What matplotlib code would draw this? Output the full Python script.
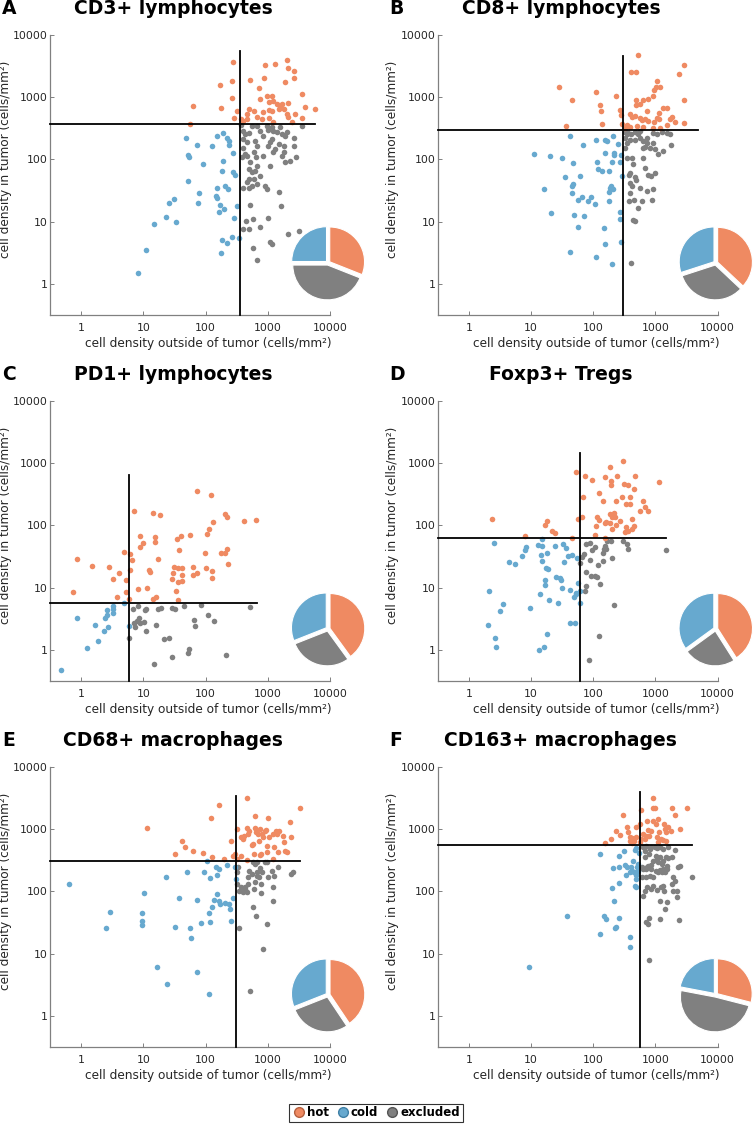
import matplotlib
matplotlib.use("Agg")
import matplotlib.pyplot as plt
from matplotlib.lines import Line2D
import numpy as np

# colours
HOT = "#ef8a62"
COLD = "#67a9cf"
EXCL = "#808080"

# ---- data: (outside tumor, inside tumor) densities, cells/mm2 ----
cd3_hot_x = [280, 270, 270, 170, 180, 62, 57, 315, 285, 520, 370, 460, 505, 590, 710, 900, 880, 1300, 2000, 2150,
             2600, 2600, 1900, 1060, 960, 1160, 1230, 1400, 1580, 1490, 1790, 1160, 1030, 850, 800, 1060, 1230, 2000,
             2150, 2750, 3500, 3500, 4000, 5800, 2150, 750, 665, 460, 405, 1680, 2440]
cd3_hot_y = [3700, 1850, 960, 1550, 680, 730, 370, 590, 460, 1900, 450, 540, 650, 590, 1400, 3300, 2000, 3400, 3900,
             2900, 2600, 2000, 1750, 850, 1060, 1060, 880, 780, 730, 650, 650, 610, 620, 570, 450, 460, 395, 540, 475,
             540, 460, 1130, 690, 650, 810, 940, 475, 450, 420, 780, 395]
cd3_cold_x = [8.2, 11, 15, 23, 26, 31, 34, 48, 53, 55, 53, 72, 78, 76, 90, 126, 150, 147, 150, 162, 154, 170, 181,
              175, 188, 193, 183, 198, 208, 218, 229, 235, 235, 224, 263, 272, 279, 286, 297, 324, 349]
cd3_cold_y = [1.5, 3.5, 9.3, 12, 20, 23.5, 10, 225, 117, 108, 45, 172, 29, 20, 86, 162, 238, 26, 24, 14.5, 35, 18.6,
              5, 3.1, 95, 265, 66, 16, 37, 218, 33, 200, 172, 4.5, 5.7, 63, 125, 11.6, 57, 18, 5.4]
cd3_excl_x = [370, 405, 430, 490, 460, 395, 430, 470, 520, 490, 505, 460, 550, 590, 625, 665, 650, 550, 665, 750,
              960, 1025, 1230, 1400, 1680, 1900, 2020, 1580, 1160, 1025, 1090, 1310, 1490, 1790, 1680, 1900, 2290,
              2600, 2600, 2860, 3500, 1230, 1090, 850, 665, 625, 590, 750, 665, 550, 490, 405, 905, 964, 1490, 1620,
              520, 1000, 450, 573, 505, 405, 750, 587, 680, 1090, 1160, 2150, 3130, 405, 850, 1160, 1790, 380]
cd3_excl_y = [355, 213, 255, 270, 188, 150, 122, 115, 90, 70, 48, 44, 62, 130, 200, 166, 108, 350, 350, 290, 350,
              300, 290, 272, 256, 240, 272, 328, 328, 166, 188, 147, 177, 166, 115, 90, 95, 166, 218, 108, 340, 130,
              79, 115, 79, 66, 48, 55, 40, 37.6, 35, 35, 37.6, 33, 30, 18, 18.6, 11.5, 10.3, 10.9, 7.5, 7.7, 8.2, 3.8,
              2.4, 4.8, 4.3, 6.4, 7.2, 290, 240, 210, 130, 108]

cd8_hot_x = [28, 45, 37, 110, 128, 131, 138, 232, 269, 280, 294, 530, 400, 480, 1050, 1190, 1025, 930, 905, 770, 640,
             566, 488, 488, 390, 415, 470, 566, 600, 680, 770, 930, 1120, 1120, 1345, 1520, 1730, 1830, 2075, 2350,
             2900, 2830, 2900, 500, 640, 390, 324, 345, 1520, 905, 1190, 1050, 725]
cd8_hot_y = [1470, 900, 340, 1230, 750, 600, 367, 1060, 620, 510, 367, 4700, 2500, 2500, 1790, 1470, 1470, 1300, 1050,
             930, 895, 770, 895, 750, 546, 482, 500, 470, 436, 453, 415, 405, 442, 566, 680, 665, 442, 482, 405, 2350,
             3280, 895, 390, 345, 332, 332, 316, 358, 358, 324, 324, 470, 600]
cd8_cold_x = [11, 20.5, 32, 48, 43, 69, 109, 156, 164, 210, 253, 215, 215, 280, 156, 113, 120, 136, 181, 198, 269, 35,
              61, 16.4, 48, 45, 46, 56, 65, 81, 91, 106, 186, 210, 195, 181, 179, 286, 21, 49, 72, 56, 150, 269, 269,
              154, 280, 42, 109, 198]
cd8_cold_y = [123, 112, 106, 87, 238, 168, 202, 208, 198, 238, 179, 128, 117, 116, 128, 92, 69, 65, 65, 91, 91, 52, 54,
              33, 40, 37, 29, 22.6, 24.7, 21.3, 24.7, 19.5, 35, 34, 38, 30, 21.3, 54, 14, 13, 12.2, 8.3, 8, 14.3, 11.2,
              4.3, 4.8, 3.2, 2.7, 2.1]
cd8_excl_x = [324, 367, 400, 470, 532, 566, 390, 345, 324, 470, 640, 743, 929, 1050, 1265, 1520, 1730, 1770, 1313,
              1117, 988, 820, 681, 743, 906, 353, 415, 442, 390, 376, 470, 488, 640, 681, 771, 841, 988, 390, 415, 566,
              725, 906, 390, 381, 453, 602, 873, 532, 431, 470, 400, 640, 566, 345, 324]
cd8_excl_y = [280, 269, 253, 276, 259, 286, 202, 186, 154, 202, 198, 218, 269, 259, 280, 269, 253, 170, 136, 123, 145,
              154, 158, 186, 186, 104, 106, 83, 61, 57, 52, 47.6, 106, 73, 57, 54, 61, 42, 37, 35, 31.6, 33, 29, 21.8,
              22.4, 21.3, 22.4, 16.6, 10.8, 10.1, 2.15, 154, 224, 253, 218]

pd1_hot_x = [0.75, 0.85, 1.47, 2.8, 3.2, 4.05, 3.76, 4.9, 5.2, 5.3, 6.0, 6.2, 6.6, 7.1, 8.3, 8.7, 9, 9.9, 11.5, 12.3,
             12.6, 14.3, 14.3, 15.2, 15.2, 16.2, 17.5, 18.3, 30, 29.4, 31.3, 36, 34, 35, 36, 37, 41, 42.6, 42.6, 42.6,
             57, 63, 63, 72, 72, 97, 101, 104, 115, 122, 126, 126, 133, 177, 208, 218, 208, 218, 226, 415, 648, 36.7,
             5.8]
pd1_hot_y = [8.6, 28.6, 22, 21.3, 14, 17, 7.2, 37.6, 13.3, 8.4, 35, 19.3, 28, 172, 9.6, 66.5, 44.7, 53, 9.8, 19.3, 18,
             6.5, 156, 65, 55, 7, 29.4, 147, 17.5, 13.6, 21.8, 21, 9, 60, 12.2, 40.5, 68, 16, 13, 20.8, 70, 21.8, 15.8,
             17, 358, 35.8, 21, 73, 87, 312, 18.6, 14.5, 112, 35.8, 35.8, 42.6, 154, 136, 24, 119, 122, 6.3, 6.5]
pd1_cold_x = [0.48, 0.86, 1.26, 1.7, 1.88, 2.3, 2.4, 2.6, 2.7, 2.6, 3.2, 3.3, 3.3, 4.9, 5.8]
pd1_cold_y = [0.47, 3.2, 1.09, 2.5, 1.38, 2.0, 3.3, 4.3, 2.35, 3.6, 3.95, 4.5, 5.1, 5.6, 2.4]
pd1_excl_x = [5.9, 6.8, 7, 7.25, 8.2, 8.5, 8.7, 10.1, 10.5, 11.2, 11.2, 15.8, 17.3, 19.5, 21.5, 25.6, 29, 29, 32, 45,
              52, 55, 65, 66.5, 85, 108, 138, 213, 519, 14.9, 8]
pd1_excl_y = [1.58, 4.6, 2.66, 2.35, 5.06, 3.2, 2.66, 2.76, 4.36, 4.5, 2.0, 2.5, 4.6, 4.76, 1.47, 1.58, 0.77, 4.8, 4.6,
              5.06, 0.9, 1.05, 3.0, 2.44, 5.2, 3.6, 2.9, 0.82, 4.9, 0.6, 2.9]

foxp3_hot_x = [2.4, 8, 16.5, 18, 21.4, 24.2, 46, 52, 57.5, 66.7, 68, 73, 97, 107, 109, 124, 115, 124, 143, 153, 153,
               162, 184, 184, 195, 195, 200, 203, 213, 221, 235, 241, 266, 294, 308, 320, 332, 340, 362, 362, 385, 395,
               425, 447, 425, 452, 469, 572, 631, 672, 760, 1140, 301, 235, 153, 184]
foxp3_hot_y = [127, 67, 103, 118, 80, 76, 63, 735, 129, 139, 291, 626, 533, 70, 97, 333, 135, 122, 251, 611, 108, 112,
               885, 108, 526, 454, 135, 88, 157, 135, 245, 634, 119, 291, 465, 78, 93, 222, 454, 82, 222, 284, 88, 391,
               127, 99, 626, 171, 251, 196, 173, 495, 1080, 103, 64, 150]
foxp3_cold_x = [2.5, 2.1, 2.0, 2.6, 2.7, 3.2, 3.5, 4.5, 5.6, 7.2, 8, 8.2, 9.7, 13, 13.7, 13.2, 14.4, 14.8, 15, 15.1,
                16.1, 16.5, 16.9, 17.6, 18, 18, 18.9, 19.1, 24.5, 25.1, 27.4, 28.8, 30.6, 31, 33, 33.8, 36, 39.2, 41.7,
                41.7, 46, 50, 49.6, 53.4, 55.4, 57.5, 60.4, 62, 52]
foxp3_cold_y = [53, 8.9, 2.5, 1.58, 1.13, 4.25, 5.4, 26, 24, 32, 40, 44.5, 4.7, 49, 7.9, 1.0, 33.5, 46.7, 60, 27, 1.12,
                10.9, 13.4, 20.7, 35.6, 1.83, 19.7, 6.3, 46, 15, 5.6, 14.1, 13.2, 9.8, 49.7, 26, 42.8, 32.6, 9.1, 2.66,
                34, 2.72, 7.2, 8.3, 29.6, 11.7, 8.9, 5.6, 7.9]
foxp3_excl_x = [62, 66.7, 70, 73.6, 75.5, 77.3, 87.5, 89.7, 92, 96.6, 107, 115, 118, 127, 124, 143, 143, 147, 154, 162,
                168, 195, 203, 213, 301, 349, 367, 1460, 85, 77, 105]
foxp3_excl_y = [25, 30.7, 34.7, 8.9, 17.6, 10.7, 27.8, 51.5, 15.4, 40.3, 15.5, 15, 22.8, 11.4, 1.66, 27, 35.6, 41.3,
                46, 42.3, 57, 57, 29.6, 5.2, 57, 50, 41.8, 40, 0.68, 50, 44.5]

cd68_hot_x = [11.5, 32, 42.6, 47, 62, 89.5, 122, 128, 166, 198, 253, 272, 297, 316, 324, 367, 395, 415, 459, 470, 488,
              506, 552, 587, 625, 632, 648, 707, 734, 752, 800, 851, 906, 940, 964, 988, 1025, 1064, 1205, 1265, 1362,
              1432, 1542, 1746, 1834, 1905, 2024, 2291, 2378, 3325, 1233, 459, 367, 602, 771, 1486, 752]
cd68_hot_y = [1030, 400, 640, 526, 443, 411, 1500, 355, 2470, 333, 658, 377, 400, 1010, 333, 744, 700, 792, 3160, 1050,
              842, 950, 567, 581, 1660, 1050, 896, 842, 658, 1014, 842, 744, 953, 977, 427, 533, 1520, 744, 842, 514,
              930, 842, 953, 792, 618, 443, 427, 1298, 763, 2183, 333, 321, 377, 401, 401, 427, 380]
cd68_cold_x = [0.63, 2.53, 2.9, 9.6, 9.6, 9.6, 10.3, 16.6, 23.5, 24.4, 32.8, 37, 50.6, 56, 57.3, 71.6, 73.4, 83, 94,
               106, 115, 120, 120, 115, 126, 138, 150, 147, 154, 162, 170, 162, 208, 218, 235, 247, 259, 272, 297, 308]
cd68_cold_y = [132, 25.5, 47, 45, 33, 28.8, 94.5, 6, 169, 3.3, 27.1, 78.5, 206, 25.5, 17.8, 73, 5.1, 31, 206, 306,
               2.23, 165, 32.6, 45, 55.5, 73, 186, 245, 91, 69, 64, 230, 66, 270, 63, 52, 34, 78.5, 251, 159]
cd68_excl_x = [316, 324, 337, 349, 367, 395, 431, 459, 488, 506, 552, 602, 625, 665, 681, 734, 752, 771, 800, 625, 665,
               771, 964, 1161, 1265, 1486, 1205, 1205, 2350, 2531, 587, 648, 988, 341, 851, 519, 906, 587, 488, 431,
               1025]
cd68_excl_y = [203, 132, 251, 100, 117, 97, 119, 97, 169, 216, 191, 110, 277, 294, 203, 173, 239, 132, 203, 140, 180,
               93, 294, 216, 180, 245, 117, 71, 191, 203, 57, 40.7, 29.9, 25.8, 12.1, 2.53, 294, 300, 132, 110, 169]

cd163_hot_x = [155, 191, 236, 267, 302, 350, 363, 396, 427, 449, 483, 560, 596, 634, 674, 735, 763, 792, 832, 896, 918,
               977, 1014, 1040, 1105, 1148, 1205, 1298, 1365, 1416, 1469, 1602, 1747, 1813, 2051, 2468, 3238, 918, 717,
               596, 495, 387, 427, 560, 1105, 1500]
cd163_hot_y = [596, 700, 953, 811, 1700, 1105, 896, 744, 726, 658, 1079, 1219, 2051, 842, 700, 1380, 977, 792, 930,
               1380, 2208, 2208, 1219, 744, 1452, 896, 700, 674, 1219, 1014, 896, 1105, 953, 2208, 1703, 1014, 2183,
               3200, 792, 700, 744, 658, 610, 616, 618, 658]
cd163_cold_x = [9.25, 38.3, 127, 150, 160, 130, 203, 215, 208, 224, 235, 260, 260, 260, 258, 310, 321, 333, 350, 396,
                396, 411, 427, 437, 449, 465, 465, 495, 495, 495, 508, 526, 526, 495, 387, 540]
cd163_cold_y = [6.15, 40.8, 20.7, 40, 36, 401, 115, 71, 240, 25.8, 26.5, 377, 135, 37.4, 245, 454, 270, 186, 245, 18.7,
                12.6, 245, 211, 313, 203, 465, 124, 495, 186, 159, 245, 277, 215, 117, 203, 420]
cd163_excl_x = [634, 674, 717, 812, 863, 977, 1040, 1175, 1330, 1602, 2051, 674, 792, 763, 735, 700, 832, 918, 1014,
                1040, 1105, 1175, 1250, 1330, 1469, 1602, 1813, 1506, 1330, 1175, 1014, 863, 717, 812, 918, 1105, 1250,
                1416, 1506, 1928, 2321, 2468, 2051, 918, 735, 674, 863, 1040, 1205, 1365, 1330, 1813, 1928, 2183, 2235,
                634, 1175, 1506, 1416, 1175, 792, 700, 763, 2408, 792, 3850, 600, 600, 634]
cd163_excl_y = [514, 454, 547, 483, 526, 514, 501, 526, 483, 514, 465, 355, 401, 260, 245, 230, 270, 313, 377, 333,
                295, 355, 277, 313, 355, 346, 355, 260, 230, 222, 216, 230, 169, 180, 169, 203, 203, 203, 230, 169, 245,
                260, 149, 124, 117, 103, 110, 106, 117, 103, 124, 132, 103, 103, 82.5, 85.6, 71, 67, 52, 36, 37.4, 31.8,
                29.9, 34.7, 7.9, 173, 245, 169, 230]

# cut-offs (outside, inside) and extent of the cut-off lines
thr_out = [357, 297, 5.8, 62, 308, 560]
thr_in = [367, 297, 5.73, 62, 313, 560]
vline_top = [5600, 4640, 656, 1452, 3365, 3950]
hline_right = [5800, 4760, 665, 1463, 3325, 3850]

# pie shares: hot, excluded, cold (%)
pie_hot = [31, 37, 40, 41, 40.6, 29]
pie_excl = [44, 33, 29, 24, 28.4, 49]
pie_cold = [25, 30, 31, 35, 31, 22]

titles = ["CD3+ lymphocytes", "CD8+ lymphocytes", "PD1+ lymphocytes",
          "Foxp3+ Tregs", "CD68+ macrophages", "CD163+ macrophages"]
letters = ["A", "B", "C", "D", "E", "F"]

panels = [
    (cd3_hot_x, cd3_hot_y, cd3_cold_x, cd3_cold_y, cd3_excl_x, cd3_excl_y),
    (cd8_hot_x, cd8_hot_y, cd8_cold_x, cd8_cold_y, cd8_excl_x, cd8_excl_y),
    (pd1_hot_x, pd1_hot_y, pd1_cold_x, pd1_cold_y, pd1_excl_x, pd1_excl_y),
    (foxp3_hot_x, foxp3_hot_y, foxp3_cold_x, foxp3_cold_y, foxp3_excl_x, foxp3_excl_y),
    (cd68_hot_x, cd68_hot_y, cd68_cold_x, cd68_cold_y, cd68_excl_x, cd68_excl_y),
    (cd163_hot_x, cd163_hot_y, cd163_cold_x, cd163_cold_y, cd163_excl_x, cd163_excl_y),
]

W, H = 753, 1124
fig = plt.figure(figsize=(W / 100, H / 100), dpi=100)


def rect(left, top, w, h):
    return [left / W, 1 - (top + h) / H, w / W, h / H]


lefts = [50, 437.7]
tops = [35, 401, 767]
size = 280
lims = (10 ** -0.5, 10 ** 4)
ticks = [1, 10, 100, 1000, 10000]

for i in range(6):
    row, col = divmod(i, 2)
    L, T = lefts[col], tops[row]
    ax = fig.add_axes(rect(L, T, size, size))
    hx, hy, cx, cy, ex, ey = panels[i]
    ax.scatter(ex, ey, s=16, color=EXCL, linewidths=0, zorder=2)
    ax.scatter(cx, cy, s=16, color=COLD, linewidths=0, zorder=2)
    ax.scatter(hx, hy, s=16, color=HOT, linewidths=0, zorder=2)
    ax.set_xscale("log")
    ax.set_yscale("log")
    ax.set_xlim(lims)
    ax.set_ylim(lims)
    ax.plot([thr_out[i], thr_out[i]], [lims[0], vline_top[i]], color="black", lw=1.3, zorder=3, clip_on=False)
    ax.plot([lims[0], hline_right[i]], [thr_in[i], thr_in[i]], color="black", lw=1.3, zorder=3, clip_on=False)

    ax.set_xticks(ticks)
    ax.set_xticklabels([str(t) for t in ticks])
    ax.set_yticks(ticks)
    ax.set_yticklabels([str(t) for t in ticks])
    ax.minorticks_off()
    ax.tick_params(direction="in", length=3, width=0.7, color="#808080", labelsize=7.8,
                   labelcolor="#262626")
    ax.tick_params(axis="x", pad=6)
    ax.tick_params(axis="y", pad=1.5)
    for s in ["top", "right"]:
        ax.spines[s].set_visible(False)
    for s in ["left", "bottom"]:
        ax.spines[s].set_color("#808080")
        ax.spines[s].set_linewidth(0.9)

    ax.set_xlabel("cell density outside of tumor (cells/mm²)", fontsize=8.7, color="#262626")
    ax.set_ylabel("cell density in tumor (cells/mm²)", fontsize=8.7, color="#262626")
    ax.xaxis.set_label_coords(0.565, -0.078)
    ax.yaxis.set_label_coords(-0.137, 0.555)

    # title and panel letter share one baseline, 21 px above the axes
    ax.text(0.44, 1 + 21 / size, titles[i], transform=ax.transAxes, ha="center", va="baseline",
            fontsize=13.5, fontweight="bold")
    fig.text((L - 48) / W, 1 - (T - 21) / H, letters[i], ha="left", va="baseline",
             fontsize=13.5, fontweight="bold")

    # pie inset
    cxp, cyp = L + size - 2, T + size - 52
    R = 39
    pax = fig.add_axes(rect(cxp - R, cyp - R, 2 * R, 2 * R))
    pax.pie([pie_hot[i], pie_excl[i], pie_cold[i]], colors=[HOT, EXCL, COLD],
            startangle=90, counterclock=False, explode=[0.06, 0.06, 0.06],
            wedgeprops=dict(edgecolor="white", linewidth=0.8))
    pax.set_xlim(-1.12, 1.12)
    pax.set_ylim(-1.12, 1.12)
    pax.set_aspect("equal")
    pax.axis("off")

handles = [
    Line2D([], [], marker="o", ls="", markerfacecolor=HOT, markeredgecolor="#b5603f", markersize=7),
    Line2D([], [], marker="o", ls="", markerfacecolor=COLD, markeredgecolor="#3f7fa5", markersize=7),
    Line2D([], [], marker="o", ls="", markerfacecolor=EXCL, markeredgecolor="#555555", markersize=7),
]
leg = fig.legend(handles, ["hot", "cold", "excluded"], loc="center", ncol=3,
                 bbox_to_anchor=(376 / W, 1 - 1113 / H), frameon=True, fancybox=False,
                 edgecolor="black", prop=dict(size=8.5, weight="bold"),
                 handletextpad=0.15, columnspacing=0.6, borderpad=0.25, handlelength=1.1)
leg.get_frame().set_linewidth(0.8)

fig.savefig("out.png", dpi=100)
